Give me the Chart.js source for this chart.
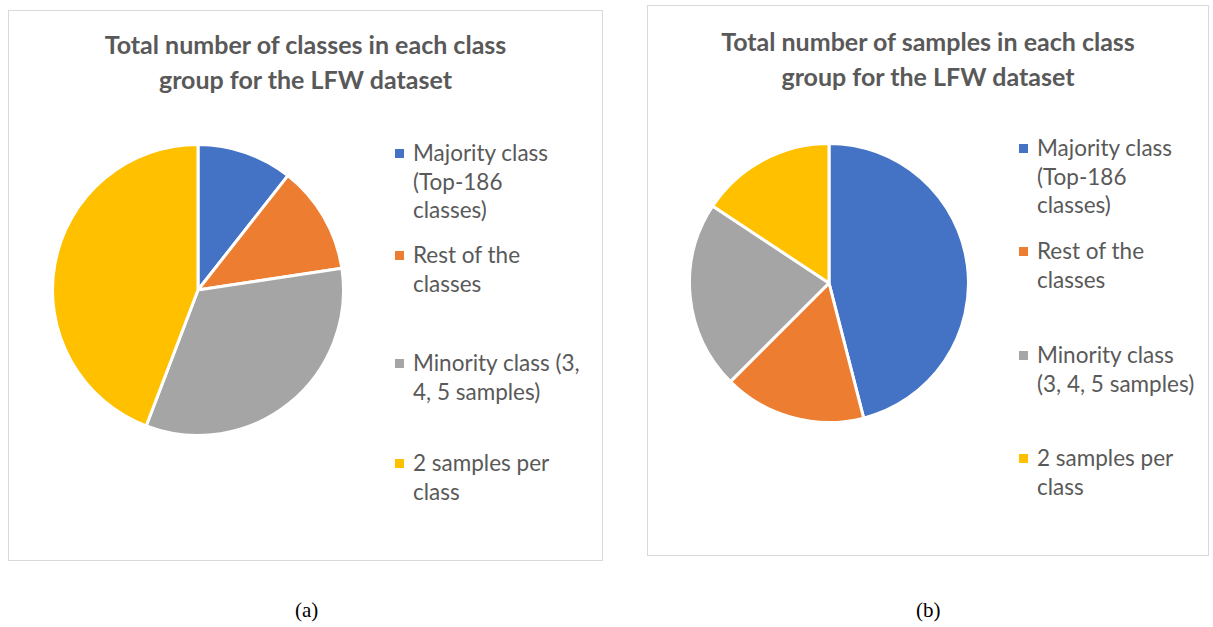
<!DOCTYPE html>
<html>
<head>
<meta charset="utf-8">
<script src="https://cdn.jsdelivr.net/npm/chart.js@4"></script>
<style>
  body { margin: 0; background: #fff; width: 1213px; height: 627px; position: relative; overflow: hidden; }
  .box { position: absolute; border: 1.5px solid #d9d9d9; box-sizing: border-box; }
  .title { position: absolute; left: 0; right: 0; text-align: center; font-family: Lato, "Open Sans", sans-serif; font-weight: bold; font-size: 25px; line-height: 35px; color: #595959; }
  .pie { position: absolute; }
  .legend { position: absolute; font-family: Lato, "Open Sans", sans-serif; font-size: 22.5px; line-height: 28.5px; color: #595959; }
  .legend .item { position: absolute; left: 0; white-space: nowrap; }
  .legend .sw { position: absolute; left: -18px; top: 10px; width: 9px; height: 9px; }
  .legend .txt { position: absolute; left: 0; }
  .cap { position: absolute; font-family: "Liberation Serif", "Times New Roman", serif; font-size: 21px; color: #000; }
</style>
</head>
<body>
<div class="box" id="boxA" style="left:8px; top:10px; width:595px; height:551px;">
  <div class="title" style="top:16px;">Total number of classes in each class<br>group for the LFW dataset</div>
</div>
<div class="box" id="boxB" style="left:647px; top:5px; width:562px; height:551px;">
  <div class="title" style="top:18px;">Total number of samples in each class<br>group for the LFW dataset</div>
</div>
<div class="pie" style="left:51px; top:143px; width:294px; height:294px;"><canvas id="pieA" width="294" height="294"></canvas></div>
<div class="pie" style="left:688px; top:142px; width:282px; height:282px;"><canvas id="pieB" width="282" height="282"></canvas></div>
<div class="legend" id="legA" style="left:413px; top:0px;"></div>
<div class="legend" id="legB" style="left:1037px; top:0px;"></div>
<div class="cap" style="left:295px; top:598px;">(a)</div>
<div class="cap" style="left:916px; top:598px;">(b)</div>
<script>
// categories (wrapped as in each legend)
const labelsA = [['Majority class', '(Top-186', 'classes)'], ['Rest of the', 'classes'], ['Minority class (3,', '4, 5 samples)'], ['2 samples per', 'class']];
const labelsB = [['Majority class', '(Top-186', 'classes)'], ['Rest of the', 'classes'], ['Minority class', '(3, 4, 5 samples)'], ['2 samples per', 'class']];

// share of each group, %
const classesShare = [10.6, 12.0, 33.2, 44.2];
const samplesShare = [46.0, 16.5, 21.8, 15.7];

const colors = ['#4472C4', '#ED7D31', '#A5A5A5', '#FFC000'];

// html legend, item tops in page px
const htmlLegend = {
  id: 'htmlLegend',
  afterUpdate(chart, args, opts) {
    const box = document.getElementById(opts.containerID);
    box.innerHTML = '';
    const items = chart.options.plugins.legend.labels.generateLabels(chart);
    items.forEach((it, i) => {
      const div = document.createElement('div');
      div.className = 'item';
      div.style.top = opts.tops[i] + 'px';
      const sw = document.createElement('span');
      sw.className = 'sw';
      sw.style.background = it.fillStyle;
      const txt = document.createElement('span');
      txt.className = 'txt';
      const lines = chart.data.labels[i];
      txt.innerHTML = (Array.isArray(lines) ? lines : [lines]).join('<br>');
      div.appendChild(sw);
      div.appendChild(txt);
      box.appendChild(div);
    });
  }
};

function makePie(id, labels, values, legendId, tops) {
  new Chart(document.getElementById(id), {
    type: 'pie',
    data: {
      labels: labels,
      datasets: [{
        data: values,
        backgroundColor: colors,
        borderColor: '#ffffff',
        borderWidth: 3
      }]
    },
    options: {
      responsive: false,
      animation: false,
      layout: { padding: 0 },
      plugins: {
        legend: { display: false },
        tooltip: { enabled: false },
        htmlLegend: { containerID: legendId, tops: tops }
      }
    },
    plugins: [htmlLegend]
  });
}

makePie('pieA', labelsA, classesShare, 'legA', [139, 241, 349, 449]);
makePie('pieB', labelsB, samplesShare, 'legB', [134, 237, 341, 444]);
</script>
</body>
</html>
